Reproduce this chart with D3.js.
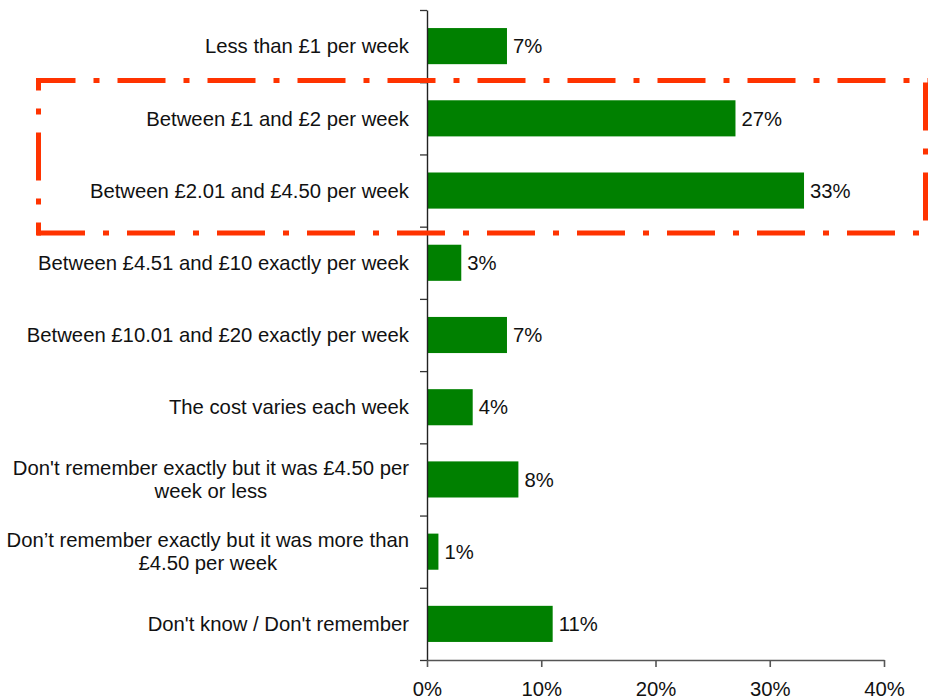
<!DOCTYPE html>
<html><head><meta charset="utf-8">
<script src="https://cdn.jsdelivr.net/npm/d3@7"></script>
<style>
body{margin:0;background:#fff}
svg{display:block;font-family:"Liberation Sans",Arial,sans-serif}
</style>
</head><body>
<svg id="chart" width="928" height="698"></svg>
<script>
const categories = [
  "Less than £1 per week",
  "Between £1 and £2 per week",
  "Between £2.01 and £4.50 per week",
  "Between £4.51 and £10 exactly per week",
  "Between £10.01 and £20 exactly per week",
  "The cost varies each week",
  "Don't remember exactly but it was £4.50 per\nweek or less",
  "Don’t remember exactly but it was more than\n£4.50 per week",
  "Don't know / Don't remember"
];
const values = [7, 27, 33, 3, 7, 4, 8, 1, 11];
const xTicks = [0, 10, 20, 30, 40];
const xTickLabels = ["0%", "10%", "20%", "30%", "40%"];

(function () {
const svg = d3.select("#chart");
const pLeft = 427, pRight = 884, pTop = 10, pBottom = 660;
const fs = 20.3;

const x = d3.scaleLinear().domain([0, 40]).range([pLeft, pRight]);
const y = d3.scaleBand().domain(categories).range([pTop, pBottom]).paddingInner(0.5).paddingOuter(0.25);

// bars
svg.append("g").selectAll("rect").data(categories).join("rect")
  .attr("x", x(0))
  .attr("y", d => y(d))
  .attr("width", (d, i) => x(values[i]) - x(0))
  .attr("height", y.bandwidth())
  .attr("fill", "#008000");

// y axis with ticks at band boundaries
const yb = d3.scaleLinear().domain([0, categories.length]).range([pTop, pBottom]);
const yAxis = svg.append("g").attr("transform", `translate(${pLeft},0)`)
  .call(d3.axisLeft(yb).tickValues(d3.range(categories.length + 1)).tickFormat("").tickSize(7).tickSizeOuter(0));
yAxis.select(".domain").attr("stroke", "#222").attr("stroke-width", 1.4);
yAxis.selectAll(".tick line").attr("stroke", "#333").attr("stroke-width", 1.3);

// x axis
const xAxis = svg.append("g").attr("transform", `translate(0,${pBottom})`)
  .call(d3.axisBottom(x).tickValues(xTicks).tickFormat((d, i) => xTickLabels[i]).tickSize(7).tickSizeOuter(0));
xAxis.select(".domain").attr("stroke", "#555").attr("stroke-width", 1.6);
xAxis.selectAll(".tick line").attr("stroke", "#555").attr("stroke-width", 1.6);
xAxis.selectAll(".tick text").attr("y", 35.5).attr("dy", 0)
  .attr("font-size", fs).attr("fill", "#111").attr("font-family", "Liberation Sans, Arial, sans-serif");

// category labels (multi-line blocks right-aligned, lines centred within block)
const labelRight = 409;
const lab = svg.append("g").selectAll("text").data(categories).join("text")
  .attr("font-size", fs)
  .attr("fill", "#111");
lab.each(function (d) {
  const lines = d.split("\n");
  const cy = y(d) + y.bandwidth() / 2;
  const lh = 23;
  const t = d3.select(this);
  if (lines.length === 1) {
    t.attr("text-anchor", "end").attr("x", labelRight).attr("y", cy + 7.2).text(d);
    return;
  }
  const spans = lines.map((ln, k) => t.append("tspan")
    .attr("y", cy + 7.2 + (k - (lines.length - 1) / 2) * lh)
    .text(ln));
  const maxW = d3.max(spans, s => s.node().getComputedTextLength());
  t.attr("text-anchor", "middle");
  spans.forEach(s => s.attr("x", labelRight - maxW / 2));
});

// value labels
svg.append("g").selectAll("text").data(categories).join("text")
  .attr("x", (d, i) => x(values[i]) + 6)
  .attr("y", d => y(d) + y.bandwidth() / 2 + 7.2)
  .attr("font-size", fs)
  .attr("fill", "#111")
  .text((d, i) => values[i] + "%");

// highlight box (dash-dot)
const bx0 = 38.5, bx1 = 925.5, by0 = 80.5, by1 = 233;
const sides = [
  {x1: bx0 - 2.5, y1: by0, x2: bx1 + 2.5, y2: by0, off: 8.5},
  {x1: bx1, y1: by0 - 2.5, x2: bx1, y2: by1 + 2.5, off: 85.5},
  {x1: bx0 - 2.5, y1: by1, x2: bx1 + 2.5, y2: by1, off: -1},
  {x1: bx0, y1: by0 - 2.5, x2: bx0, y2: by1 + 2.5, off: 35.5}
];
svg.append("g").selectAll("line").data(sides).join("line")
  .attr("x1", d => d.x1).attr("y1", d => d.y1)
  .attr("x2", d => d.x2).attr("y2", d => d.y2)
  .attr("stroke", "#ff3300")
  .attr("stroke-width", 5)
  .attr("stroke-dasharray", "48,18,6,18")
  .attr("stroke-dashoffset", d => d.off);
})();
</script>
</body></html>
